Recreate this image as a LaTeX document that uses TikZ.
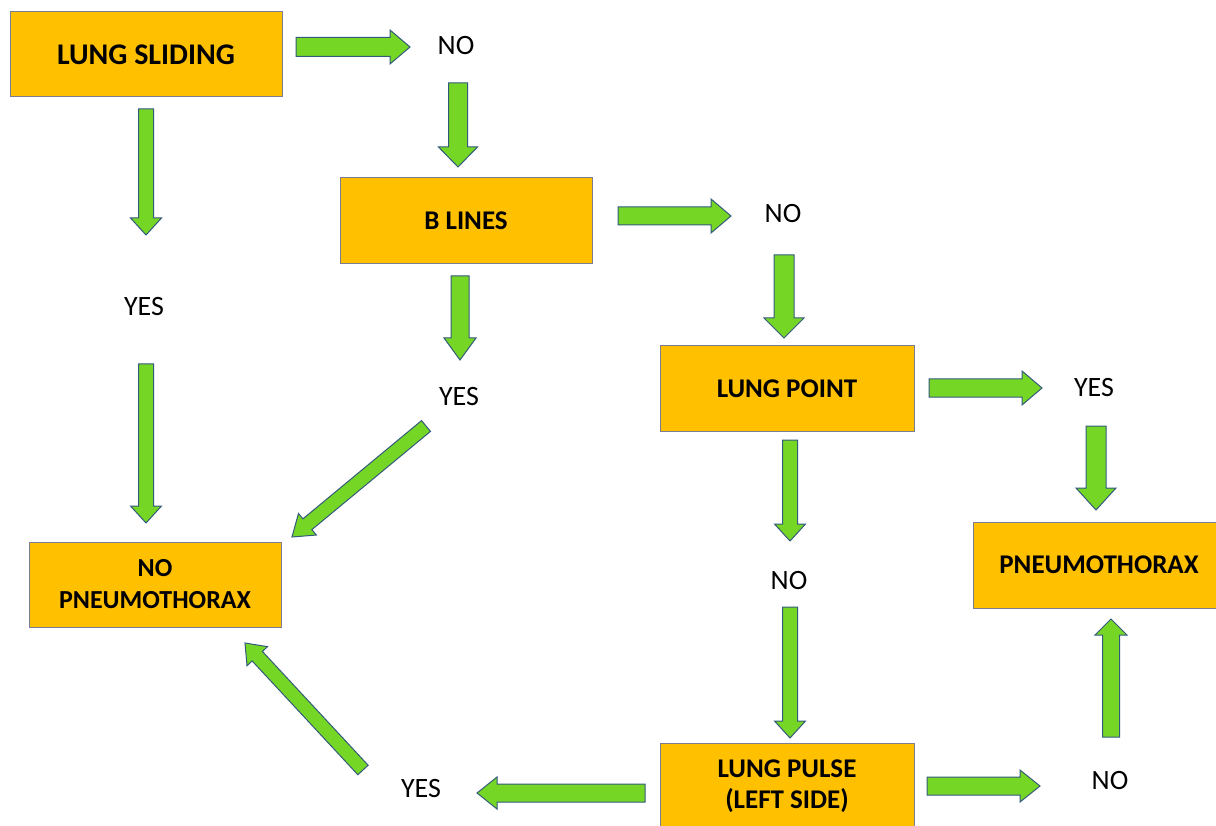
\documentclass[tikz,border=0pt]{standalone}
\usepackage{fontspec}
\setmainfont{Carlito}
\usetikzlibrary{calc}

\definecolor{boxgold}{RGB}{255,192,0}
\definecolor{boxline}{RGB}{125,125,145}
\definecolor{arrgreen}{RGB}{118,214,38}
\definecolor{arrline}{RGB}{50,90,125}

% block arrow: from, to, shaft half width, head half width, head length
\newcommand{\garrow}[5]{%
    \draw[garr] ($(#1)!#3!90:(#2)$)
        -- ($(#2)!#5!(#1)!#3!-90:(#1)$)
        -- ($(#2)!#5!(#1)!#4!-90:(#1)$)
        -- (#2)
        -- ($(#2)!#5!(#1)!#4!90:(#1)$)
        -- ($(#2)!#5!(#1)!#3!90:(#1)$)
        -- ($(#1)!#3!-90:(#2)$) -- cycle;}

\begin{document}
\begin{tikzpicture}[x=1pt,y=-1pt,
    box/.style={draw=boxline,fill=boxgold,line width=1pt,inner sep=0pt,
        align=center,font=\bfseries\fontsize{27}{31}\selectfont},
    lbl/.style={inner sep=0pt,font=\fontsize{28}{32}\selectfont},
    garr/.style={draw=arrline,fill=arrgreen,line width=1pt,line join=miter}]
    \useasboundingbox (0,0) rectangle (1216,826);
    \clip (0,0) rectangle (1216,826);

    \node[box,minimum width=272,minimum height=85,
        font=\bfseries\fontsize{30}{34}\selectfont] (slide) at (146,54.5) {LUNG SLIDING};
    \node[box,minimum width=252,minimum height=86] (blines) at (466,221) {B LINES};
    \node[box,minimum width=254,minimum height=85] (lpoint) at (787,388.5) {LUNG POINT};
    \node[box,minimum width=252,minimum height=86] (pneumo) at (1099,565) {PNEUMOTHORAX};
    \node[box,minimum width=252,minimum height=85,
        font=\bfseries\fontsize{26}{32}\selectfont] (nopneumo) at (155,584.5) {NO\\PNEUMOTHORAX};
    \node[box,minimum width=254,minimum height=86] (lpulse) at (787,786) {LUNG PULSE\\(LEFT SIDE)};

    \node[lbl] (no1) at (456,46) {NO};
    \node[lbl] (no2) at (783,214) {NO};
    \node[lbl] (yes3) at (1094,388) {YES};
    \node[lbl] (yes1) at (144,307) {YES};
    \node[lbl] (yes2) at (459,397) {YES};
    \node[lbl] (no3) at (789,581) {NO};
    \node[lbl] (yes4) at (421,789) {YES};
    \node[lbl] (no4) at (1110,781) {NO};

    \foreach \n/\x/\y in {s1/296/47,e1/410/47,s2/458/83,e2/458/167,
        s3/618/216,e3/731/216,s4/784/255,e4/784/338,
        s5/929/388,e5/1042/388,s6/1096/426,e6/1096/510,
        s7/146/109,e7/146/235,s8/146/364,e8/146/523,
        s9/460/276,e9/460/360,s10/426/426,e10/292/537,
        s11/790/440,e11/790/541,s12/790/607,e12/790/738,
        s13/645/793,e13/477/793,s14/363/770,e14/245/643,
        s15/927/786,e15/1040/786,s16/1111/737,e16/1111/619}
        \coordinate (\n) at (\x,\y);

    \foreach \i/\w/\h/\l in {1/9.5/17/20,2/9.5/19.5/20,3/9/17/20,4/10/20/20,
        5/9/17/20,6/10/20/22,7/7.5/15.5/17,8/7.5/15.5/17,
        9/9/16/22,10/7/14/20,11/7.5/15.5/17,12/7.5/15.5/17,
        13/9/16/20,14/7/14/18,15/9/16/20,16/8.5/16/16}
        \garrow{s\i}{e\i}{\w pt}{\h pt}{\l pt};
\end{tikzpicture}
\end{document}
